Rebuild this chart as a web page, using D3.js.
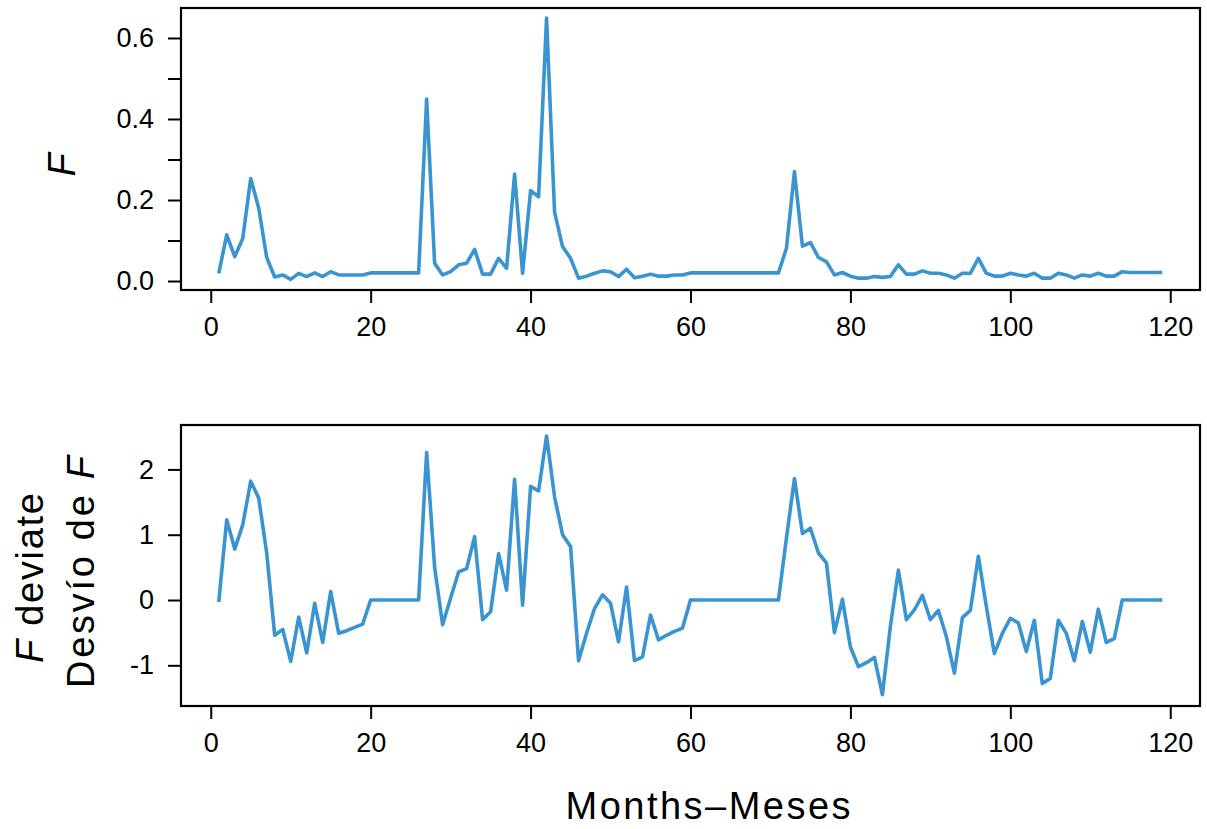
<!DOCTYPE html>
<html>
<head>
<meta charset="utf-8">
<script src="https://cdn.jsdelivr.net/npm/d3@7.9.0/dist/d3.min.js"></script>
<style>
  html, body { margin: 0; padding: 0; background: #fff; }
  svg { display: block; font-family: 'Liberation Sans', Arial, Helvetica, sans-serif; }
  .tick text { font-size: 27px; fill: #000; }
  .tick line { stroke: #000; stroke-width: 2; }
  .title { font-size: 38px; fill: #000; }
</style>
</head>
<body>
<svg id="chart" width="1207" height="829"></svg>
<script>
// fishing mortality F by month, and its standardised deviate
const fishingMortality = [
  0.019, 0.114, 0.06, 0.105, 0.253, 0.18, 0.058, 0.01, 0.015, 0.004,
  0.019, 0.011, 0.02, 0.011, 0.023, 0.015, 0.015, 0.015, 0.015, 0.02,
  0.02, 0.02, 0.02, 0.02, 0.02, 0.02, 0.449, 0.044, 0.015, 0.023,
  0.04, 0.044, 0.078, 0.017, 0.017, 0.056, 0.031, 0.264, 0.019, 0.223,
  0.208, 0.649, 0.17, 0.085, 0.056, 0.007, 0.012, 0.019, 0.025, 0.023,
  0.011, 0.029, 0.008, 0.012, 0.017, 0.012, 0.012, 0.015, 0.015, 0.02,
  0.02, 0.02, 0.02, 0.02, 0.02, 0.02, 0.02, 0.02, 0.02, 0.02,
  0.02, 0.081, 0.27, 0.086, 0.095, 0.058, 0.048, 0.015, 0.021, 0.012,
  0.007, 0.007, 0.011, 0.009, 0.011, 0.04, 0.017, 0.017, 0.025, 0.019,
  0.019, 0.015, 0.007, 0.019, 0.019, 0.056, 0.019, 0.012, 0.012, 0.019,
  0.015, 0.012, 0.019, 0.007, 0.007, 0.019, 0.015, 0.007, 0.015, 0.012,
  0.019, 0.012, 0.012, 0.023, 0.021, 0.021, 0.021, 0.021, 0.021
];

const fDeviate = [
  -0.03, 1.23, 0.78, 1.15, 1.82, 1.56, 0.72, -0.54, -0.45, -0.94,
  -0.26, -0.81, -0.05, -0.65, 0.13, -0.51, -0.47, -0.42, -0.37, 0,
  0, 0, 0, 0, 0, 0, 2.26, 0.5, -0.38, 0.03,
  0.43, 0.48, 0.97, -0.3, -0.18, 0.71, 0.15, 1.85, -0.08, 1.74,
  1.67, 2.51, 1.58, 1.0, 0.82, -0.93, -0.51, -0.13, 0.08, -0.05,
  -0.64, 0.2, -0.93, -0.87, -0.23, -0.61, -0.54, -0.48, -0.43, 0,
  0, 0, 0, 0, 0, 0, 0, 0, 0, 0,
  0, 0.95, 1.86, 1.02, 1.1, 0.72, 0.57, -0.5, 0.01, -0.72,
  -1.02, -0.96, -0.88, -1.45, -0.4, 0.46, -0.3, -0.15, 0.07, -0.3,
  -0.16, -0.56, -1.12, -0.27, -0.16, 0.67, -0.1, -0.82, -0.51, -0.28,
  -0.35, -0.79, -0.31, -1.28, -1.2, -0.31, -0.51, -0.93, -0.33, -0.8,
  -0.14, -0.65, -0.59, 0, 0, 0, 0, 0, 0
];

const monthTicks = [0, 20, 40, 60, 80, 100, 120];
const topYTicks = [0, 0.1, 0.2, 0.3, 0.4, 0.5, 0.6];
const topYLabels = ['0.0', '', '0.2', '', '0.4', '', '0.6'];
const bottomYTicks = [-1, 0, 1, 2];
const bottomYLabels = ['-1', '0', '1', '2'];

const lineColor = '#3a94d0';
const svg = d3.select('#chart');

const plotLeft = 181, plotRight = 1200;
const x = d3.scaleLinear().domain([-3.72, 123.72]).range([plotLeft, plotRight]);

const panels = [
  {
    values: fishingMortality,
    top: 8, bottom: 290,
    domain: [-0.0222, 0.674],
    ticks: topYTicks, labels: topYLabels,
  },
  {
    values: fDeviate,
    top: 425, bottom: 706,
    domain: [-1.623, 2.68],
    ticks: bottomYTicks, labels: bottomYLabels,
  },
];

panels.forEach((p) => {
  const y = d3.scaleLinear().domain(p.domain).range([p.bottom, p.top]);

  const line = d3.line()
    .x((d, i) => x(i + 1))
    .y((d) => y(d));

  svg.append('path')
    .datum(p.values)
    .attr('fill', 'none')
    .attr('stroke', lineColor)
    .attr('stroke-width', 3.6)
    .attr('stroke-linejoin', 'round')
    .attr('d', line);

  svg.append('g')
    .attr('transform', `translate(0,${p.bottom})`)
    .call(d3.axisBottom(x).tickValues(monthTicks).tickFormat(d3.format('d'))
      .tickSize(13).tickSizeOuter(0).tickPadding(14));

  svg.append('g')
    .attr('transform', `translate(${plotLeft},0)`)
    .call(d3.axisLeft(y).tickValues(p.ticks)
      .tickFormat((d, i) => p.labels[i])
      .tickSize(13).tickSizeOuter(0).tickPadding(14));

  svg.append('rect')
    .attr('x', plotLeft).attr('y', p.top)
    .attr('width', plotRight - plotLeft).attr('height', p.bottom - p.top)
    .attr('fill', 'none').attr('stroke', '#000').attr('stroke-width', 2.2);
});

svg.selectAll('.domain').remove();

// axis titles
svg.append('text')
  .attr('class', 'title')
  .attr('x', 708).attr('y', 819)
  .attr('text-anchor', 'middle')
  .attr('textLength', 285)
  .text('Months\u2013Meses');

const topTitle = svg.append('text')
  .attr('class', 'title')
  .attr('transform', 'translate(75,165) rotate(-90)')
  .attr('text-anchor', 'middle');
topTitle.append('tspan').attr('font-style', 'italic').text('F');

const dev1 = svg.append('text')
  .attr('class', 'title')
  .attr('transform', 'translate(43,578) rotate(-90)')
  .attr('text-anchor', 'middle')
  .attr('textLength', 170);
dev1.append('tspan').attr('font-style', 'italic').text('F');
dev1.append('tspan').text(' deviate');

const dev2 = svg.append('text')
  .attr('class', 'title')
  .attr('transform', 'translate(94,572) rotate(-90)')
  .attr('text-anchor', 'middle')
  .attr('textLength', 232);
dev2.append('tspan').text('Desv\u00edo de ');
dev2.append('tspan').attr('font-style', 'italic').text('F');
</script>
</body>
</html>
